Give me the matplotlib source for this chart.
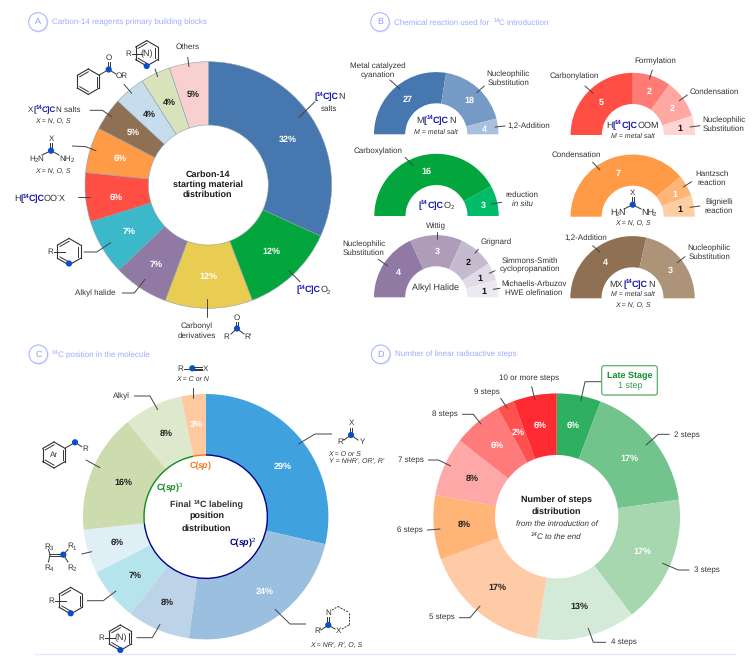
import numpy as np
import matplotlib
matplotlib.use("Agg")
import matplotlib.pyplot as plt
from matplotlib.font_manager import FontProperties
from matplotlib.patches import Circle, FancyBboxPatch
from matplotlib.textpath import TextPath

# ================= DATA =================
a_sizes = [31.8, 12.4, 11.5, 7.2, 7.3, 6.4, 6.0, 4.3, 4.1, 3.9, 5.1]
a_labels = ["32%", "12%", "12%", "7%", "7%", "6%", "6%", "5%", "4%", "4%", "5%"]
a_colors = ["#4677AE", "#03A63C", "#E9CD52", "#9079A2", "#3CB8CB", "#FF4E44",
            "#FF9B47", "#8F7052", "#C7DDEE", "#D8E3BB", "#F8D0D0"]
a_dark = [8, 9, 10]

b_cn = [27, 18, 4]
b_cn_colors = ["#4677AE", "#769AC6", "#A7C0DD"]
b_formate = [5, 2, 2, 1]
b_formate_colors = ["#FF4E44", "#FF7C76", "#FFA8A2", "#FFD4D2"]
b_co2 = [16, 3]
b_co2_colors = ["#03A63C", "#00BC68"]
b_urea = [7, 1, 1]
b_urea_colors = ["#FF9B47", "#FFB478", "#FFCDA4"]
b_alkyl = [4, 3, 2, 1, 1]
b_alkyl_colors = ["#9079A2", "#AE9CB8", "#C6BACF", "#E0DBE6", "#ECE9F0"]
b_mx = [4, 3]
b_mx_colors = ["#8F7052", "#AD9479"]

c_sizes = [28.6, 23.6, 8.3, 7.0, 5.8, 15.7, 7.8, 3.2]
c_labels = ["29%", "24%", "8%", "7%", "6%", "16%", "8%", "3%"]
c_colors = ["#3FA2DF", "#9ABFDF", "#BCD3E8", "#B6E4EC", "#DEF0F6", "#CCDCAE", "#DEE8CC", "#FFC9A0"]
c_dark = [2, 3, 4, 5, 6]
c_hybrid = [73.3, 23.5, 3.2]
c_hybrid_colors = ["#00008B", "#128A1E", "#F57A1F"]

d_sizes = [5.8, 17.0, 16.8, 13.0, 16.8, 8.4, 7.8, 6.5, 2.2, 5.7]
d_labels = ["6%", "17%", "17%", "13%", "17%", "8%", "8%", "6%", "2%", "6%"]
d_colors = ["#2FB060", "#72C38C", "#A6D7AF", "#D4EAD9", "#FFCBA6", "#FFB478",
            "#FFA8A8", "#FF7A7A", "#FF5050", "#FF2B33"]
d_dark = [3, 4, 5, 6]

# ================= SETUP =================
W, H = 756, 658
FONT = "Liberation Sans"
FS = 6.0
INK = "#333333"
BLUE = "#1A1AB0"
DOT = "#0A4FC9"
TITLE = "#9DAAFF"

plt.rcParams["font.family"] = FONT
plt.rcParams["text.hinting"] = "no_hinting"
plt.rcParams["text.hinting_factor"] = 1
fig = plt.figure(figsize=(W / 100, H / 100), dpi=100)
ax = fig.add_axes([0, 0, 1, 1])


def yy(y):
    return H - y


# ================= HELPERS =================
def donut(sizes, colors, cx, cy, r, ri, labels=None, dark=(), edge="none", size=6.6, nudge={}):
    wedges, _ = ax.pie(sizes, colors=colors, center=(cx, yy(cy)), radius=r, startangle=90,
                       counterclock=False, wedgeprops=dict(width=r - ri, edgecolor=edge, linewidth=0.4))
    if labels:
        for i, w in enumerate(wedges):
            th = np.deg2rad((w.theta1 + w.theta2) / 2)
            rm = (r + ri) / 2
            nx, ny = nudge.get(i, (0, 0))
            ax.text(cx + rm * np.cos(th) + nx, yy(cy) + rm * np.sin(th) - ny, labels[i], ha="center", va="center",
                    color="#222222" if i in dark else "white", fontsize=size, fontweight="bold", zorder=5)


def half(values, colors, cx, cy, dark=(), r=62.2, ri=31.0):
    frac = [v / (2 * sum(values)) for v in values]
    wedges, _ = ax.pie(frac, colors=colors, center=(cx, yy(cy)), radius=r, startangle=180, normalize=False,
                       counterclock=False, wedgeprops=dict(width=r - ri, linewidth=0))
    for i, w in enumerate(wedges):
        th = np.deg2rad((w.theta1 + w.theta2) / 2)
        rm = (r + ri) / 2
        ax.text(cx + rm * np.cos(th) + 1.5, yy(cy) + rm * np.sin(th) - 1, str(values[i]), ha="center", va="center",
                color="#111111" if i in dark else "white", fontsize=6.6, fontweight="bold", zorder=5)


def txt(x, y, s, size=FS, **kw):
    kw.setdefault("color", INK)
    kw.setdefault("ha", "center")
    ax.text(x, yy(y), s, fontsize=size, va="center", zorder=6, **kw)


def lead(*pts):
    xs = [p[0] for p in pts]
    ys = [yy(p[1]) for p in pts]
    ax.plot(xs, ys, color="#444444", lw=0.7, zorder=4, solid_capstyle="round")


def bond(x0, y0, x1, y1, lw=0.7, color=INK, **kw):
    ax.plot([x0, x1], [yy(y0), yy(y1)], color=color, lw=lw, zorder=4, **kw)


def multi(x0, y0, x1, y1, offs, lw=0.7):
    dx, dy = x1 - x0, y1 - y0
    n = np.hypot(dx, dy)
    px, py = -dy / n, dx / n
    for o in offs:
        bond(x0 + px * o, y0 + py * o, x1 + px * o, y1 + py * o, lw=lw)


def dot(x, y, r=3.1):
    ax.add_patch(Circle((x, yy(y)), r, fc=DOT, ec="none", zorder=7))


def ring(cx, cy, r=13.0):
    ang = np.deg2rad(np.arange(6) * 60 + 90)
    vx = cx + r * np.cos(ang)
    vy = cy + r * np.sin(ang)
    for i in range(6):
        j = (i + 1) % 6
        bond(vx[i], vy[i], vx[j], vy[j], lw=0.8)
        if i % 2 == 0:
            ix0, iy0 = cx + (vx[i] - cx) * 0.78, cy + (vy[i] - cy) * 0.78
            ix1, iy1 = cx + (vx[j] - cx) * 0.78, cy + (vy[j] - cy) * 0.78
            bond(ix0, iy0, ix1, iy1, lw=0.7)


def rich(x, y, segs, size=FS, ha="center"):
    def fp(kind):
        s = size * 0.68 if "^" in kind or "_" in kind else size
        return FontProperties(family=FONT, size=s, weight="bold" if "b" in kind else "normal",
                              style="italic" if "i" in kind else "normal")

    def width(s, kind):
        # measure through the glyph path, bracketed so that spaces count
        # -0.6 pulls the segments together, agg snaps each text to whole pixels
        p = fp(kind)
        sz = p.get_size_in_points() * 100 / 72
        w1 = TextPath((0, 0), "|" + s + "|", size=sz, prop=p).get_extents().width
        w0 = TextPath((0, 0), "||", size=sz, prop=p).get_extents().width
        return w1 - w0 - 0.6

    total = sum(width(s, k) for s, k in segs)
    px = x - total / 2 if ha == "center" else x
    base = yy(y) - size * 1.39 * 0.36
    for s, k in segs:
        up = 0.0
        if "^" in k:
            up = size * 1.39 * 0.38
        if "_" in k:
            up = -size * 1.39 * 0.18
        col = BLUE if "B" in k else INK
        if "g" in k:
            col = c_hybrid_colors[1]
        if "n" in k:
            col = c_hybrid_colors[0]
        if "o" in k:
            col = c_hybrid_colors[2]
        if "w" in k:
            col = TITLE
        ax.text(px, base + up, s, fontproperties=fp(k), color=col, ha="left", va="baseline", zorder=6)
        px += width(s, k)


def c14(prefix, suffix, after=""):
    segs = []
    if prefix:
        segs.append((prefix, ""))
    segs += [("[", "bB"), ("14", "bB^"), ("C]C", "bB"), (suffix, "")]
    if after:
        segs.append((after, ""))
    return segs


def badge(x, y, letter, title=None, segs=None, tx=52):
    ax.add_patch(Circle((x + 1, yy(y + 1)), 9.6, fc="#E6EAFF", ec="none", zorder=2))
    ax.add_patch(Circle((x, yy(y)), 9.3, fc="white", ec="#AAB6FF", lw=0.8, zorder=3))
    txt(x, y, letter, size=6.6, color="#8E9CF5")
    if title:
        txt(tx, y, title, size=5.9, color=TITLE, ha="left")
    if segs:
        rich(tx, y, segs, size=5.9, ha="left")


# ================= PANEL A =================
badge(38, 22, "A", "Carbon-14 reagents primary building blocks")
donut(a_sizes, a_colors, 208.3, 185, 123.3, 60, a_labels, a_dark, edge="#8C9FB0",
      nudge={0: (2.7, 4), 3: (-2, 3), 5: (-0.7, 3)})
for y, s in [(174.5, "Carbon-14"), (184.5, "starting material"), (194.5, "distribution")]:
    txt(207.7, y, s, size=6.6, fontweight="bold", color="#1A1A1A")

rich(329, 96, c14("", "N"), size=6.4)
txt(329, 109, "salts")
lead((315, 101.7), (299, 117.3))
rich(313, 289, [("[", "bB"), ("14", "bB^"), ("C]C", "bB"), ("O", ""), ("2", "_")], size=6.4)
lead((300, 281.7), (289, 270.7))
txt(197, 326, "Carbonyl")
txt(197, 336, "derivatives")
lead((207.3, 299.3), (207.3, 316.7))
txt(237, 318, "O")
multi(237, 322, 237, 328, [-1, 1])
bond(237, 328.5, 231, 334)
bond(237, 328.5, 244, 334)
dot(237, 328.5)
txt(226, 337, "R")
txt(248, 337, "R'")
txt(95, 293, "Alkyl halide")
lead((122.3, 293), (134.3, 293), (145, 279.3))
ring(69, 251.7, 13.3)
txt(50, 251.7, "R")
bond(54, 251.7, 65, 251.7)
dot(69, 263.5)
lead((84, 252), (96.7, 252), (110.7, 242.7))
rich(14.3, 197.7, [("H", ""), ("[", "bB"), ("14", "bB^"), ("C]C", "bB"), ("OO", ""), ("-", "^"), ("X", "")], size=6.4, ha="left")
lead((78.3, 197.3), (90, 197.3))
txt(51, 139, "X")
multi(51, 143, 51, 150, [-1, 1])
bond(51, 150.7, 42, 155)
bond(51, 150.7, 59, 155)
dot(51, 150.7)
rich(35.7, 157.7, [("H", ""), ("2", "_"), ("N", "")])
rich(66.7, 157.7, [("NH", ""), ("2", "_")])
txt(53, 171, "X = N, O, S", size=5.4, style="italic")
lead((72.3, 146), (85.7, 146.7), (96, 150.7))
rich(28.3, 109.3, [("X", ""), ("[", "bB"), ("14", "bB^"), ("C]C", "bB"), ("N salts", "")], size=6.1, ha="left")
txt(53, 121.7, "X = N, O, S", size=5.4, style="italic")
lead((90, 110.3), (102.3, 110.3), (111.7, 116.7))
ring(88.3, 81.7, 12.7)
bond(99.3, 75, 108.7, 69.5)
multi(108.7, 62, 108.7, 69, [-1, 1])
bond(108.7, 69.5, 116, 74)
dot(108.7, 69.5)
txt(108.7, 58, "O")
txt(122, 76.3, "OR")
lead((124, 84.3), (131.7, 93.3))
ring(146.7, 53.3, 12.7)
txt(146.7, 54, "(N)", size=6.4)
txt(128.3, 54.3, "R")
bond(132, 54, 141.5, 54)
dot(146.7, 66)
lead((155, 69), (157.7, 76.7))
txt(187.7, 47.3, "Others")
lead((187.7, 57.3), (189, 66.7))

# ================= PANEL B =================
badge(380, 22, "B", segs=[("Chemical reaction used for ", "w"), ("14", "w^"), ("C introduction", "w")], tx=394.3)

half(b_cn, b_cn_colors, 436.2, 134.3)
rich(435.7, 119.3, c14("M", "N"), size=6.8)
txt(436, 131.7, "M = metal salt", size=5.4, style="italic")
txt(377.7, 66.7, "Metal catalyzed", size=5.5)
txt(377.7, 75.7, "cyanation", size=5.5)
lead((390, 80), (400, 89))
txt(508.3, 74.3, "Nucleophilic", size=5.5)
txt(508.3, 83.3, "Substitution", size=5.5)
lead((484.3, 86), (476.7, 92.7))
txt(528.3, 126, "1,2-Addition", size=5.5)
lead((505, 126), (495, 127))

half(b_formate, b_formate_colors, 632.8, 135, dark=[3])
rich(632.7, 124.3, c14("H", "OOM"), size=6.8)
txt(632.7, 135.7, "M = metal salt", size=5.4, style="italic")
txt(655, 61.3, "Formylation", size=5.5)
lead((652.3, 70), (649.3, 79.3))
txt(574.3, 76.7, "Carbonylation", size=5.5)
lead((585, 86), (593.3, 93.3))
txt(714.3, 92, "Condensation", size=5.5)
lead((687.3, 95), (679.3, 100.7))
txt(724, 120, "Nucleophilic", size=5.5)
txt(724, 128.7, "Substitution", size=5.5)
lead((700, 125.7), (690, 127))

half(b_co2, b_co2_colors, 436.5, 216)
rich(436, 204.3, [("[", "bB"), ("14", "bB^"), ("C]C", "bB"), ("O", ""), ("2", "_")], size=6.8)
txt(377.7, 151.7, "Carboxylation", size=5.5)
lead((405, 157.3), (413.3, 165.7))
txt(522.3, 195.3, "reduction", size=5.5)
txt(522.3, 204.3, "in situ", size=5.5, style="italic")
lead((501.7, 202.3), (491.7, 204))

half(b_urea, b_urea_colors, 632.7, 216.7, dark=[2])
txt(632.7, 192.7, "X")
multi(632.7, 197, 632.7, 204, [-1, 1])
bond(632.7, 204.7, 624, 209)
bond(632.7, 204.7, 641, 209)
dot(632.7, 204.7)
rich(617.3, 211.7, [("H", ""), ("2", "_"), ("N", "")], size=6.2)
rich(648.3, 211.7, [("NH", ""), ("2", "_")], size=6.2)
txt(633.3, 223.7, "X = N, O, S", size=5.4, style="italic")
txt(576, 154.7, "Condensation", size=5.5)
lead((592.7, 162.3), (600, 170))
txt(712, 173.7, "Hantzsch", size=5.5)
txt(712, 182.7, "reaction", size=5.5)
lead((691.7, 181.7), (683.3, 187))
txt(718.7, 202.3, "Bignielli", size=5.5)
txt(718.7, 210.7, "reaction", size=5.5)
lead((700, 206), (690, 207.3))

half(b_alkyl, b_alkyl_colors, 436.2, 297.3, dark=[2, 3, 4])
txt(435.7, 288, "Alkyl Halide", size=6.8)
txt(436.3, 226.7, "Wittig", size=5.5)
lead((436.7, 232.3), (436.7, 239))
txt(364, 244.3, "Nucleophilic", size=5.5)
txt(364, 253, "Substitution", size=5.5)
lead((378.3, 259.3), (387.7, 266))
txt(496.3, 242.3, "Grignard", size=5.5)
lead((478.3, 249.3), (475, 253.3))
txt(530.3, 260.7, "Simmons-Smith", size=5.5)
txt(530.3, 269.7, "cyclopropanation", size=5.5)
lead((495, 270.7), (489.3, 273.3))
txt(534.3, 284, "Michaelis-Arbuzov", size=5.5)
txt(533.3, 292.7, "HWE olefination", size=5.5)
lead((500, 288.3), (493.3, 289.3))

half(b_mx, b_mx_colors, 632.5, 298.3)
rich(632, 283.3, c14("MX", "N"), size=6.8)
txt(633, 294.3, "M = metal salt", size=5.4, style="italic")
txt(633, 305, "X = N, O, S", size=5.4, style="italic")
txt(585.7, 238, "1,2-Addition", size=5.5)
lead((592.7, 245.7), (600, 252.3))
txt(709.3, 248.7, "Nucleophilic", size=5.5)
txt(709.3, 257.3, "Substitution", size=5.5)
lead((685, 256.7), (677.3, 262.7))

# ================= PANEL C =================
badge(38.3, 354.3, "C", segs=[("14", "w^"), ("C position in the molecule", "w")])
donut(c_sizes, c_colors, 205.7, 516.7, 122.7, 61.7, c_labels, c_dark,
      nudge={0: (4.7, 7), 1: (7, -1), 5: (2.7, 1), 2: (-2.3, 1)})
donut(c_hybrid, c_hybrid_colors, 205.7, 516.7, 62.4, 61.0)
rich(206.7, 504, [("Final ", "b"), ("14", "b^"), ("C labeling", "b")], size=6.6)
txt(206.7, 516, "position", size=6.6, fontweight="bold", color="#1A1A1A")
txt(206.7, 528.3, "distribution", size=6.6, fontweight="bold", color="#1A1A1A")
rich(200, 464.7, [("C(", "bo"), ("sp", "bio"), (")", "bo")], size=6.6)
rich(169.3, 486.7, [("C(", "bg"), ("sp", "big"), (")", "bg"), ("3", "g^")], size=6.6)
rich(242.3, 542.3, [("C(", "bn"), ("sp", "bin"), (")", "bn"), ("2", "n^")], size=6.6)

txt(180.7, 369, "R")
bond(184, 368.5, 192, 368.5)
multi(192, 368.5, 201.5, 368.5, [-1.3, 0, 1.3])
dot(192.3, 368.3)
txt(205, 369, "X")
txt(192.7, 378.7, "X = C or N", size=5.4, style="italic")
lead((193.3, 388.3), (193.3, 397.7))
txt(121.7, 396, "Alkyl")
lead((134.3, 396), (150, 396), (157.7, 409.7))
ring(54, 455, 13)
txt(54, 455, "Ar", size=6.0)
bond(65, 448.3, 75, 442.3)
bond(75, 442.3, 81.7, 446.7)
dot(75, 442.3)
txt(85.3, 449, "R")
lead((86, 460), (100, 467.7))
rich(48.3, 545.7, [("R", ""), ("3", "_")])
rich(71, 545, [("R", ""), ("1", "_")])
rich(48.3, 566.7, [("R", ""), ("4", "_")])
rich(71, 566.7, [("R", ""), ("2", "_")])
multi(50, 554.7, 63.3, 554.7, [-1, 1])
bond(50, 554.7, 48.5, 549.5)
bond(50, 554.7, 48.5, 562)
bond(63.3, 554.7, 68, 549.5)
bond(63.3, 554.7, 68, 562)
dot(63.3, 554.7)
lead((81.7, 554), (91.7, 551.7))
ring(70.7, 600.7, 13.3)
txt(51.7, 601, "R")
bond(55, 601, 66, 601)
dot(70.7, 613.3)
lead((87.3, 600.7), (103.3, 600.7), (116, 591))
ring(120.3, 637.7, 12.7)
txt(120.3, 638, "(N)", size=6.4)
txt(101.7, 637.7, "R")
bond(105, 637.7, 115, 637.7)
dot(120.3, 650)
lead((136.7, 637.7), (152.3, 637.7), (160, 624.3))
lead((298.3, 444), (315, 434), (331.7, 434))
txt(351, 423.3, "X")
multi(351, 427.5, 351, 434.5, [-1, 1])
bond(351, 435, 344, 440)
bond(351, 435, 358, 440)
dot(351, 435)
txt(340.7, 442.3, "R'")
txt(362.3, 441.7, "Y")
txt(345, 454, "X = O or S", size=5.4, style="italic")
txt(329, 461.7, "Y = NHR', OR', R'", size=5.4, style="italic", ha="left")
lead((275, 609.3), (290, 624), (305.7, 624))
txt(328.3, 612.7, "N")
multi(328.3, 617, 328.3, 624, [-1, 1])
bond(328.3, 625, 321, 630)
bond(328.3, 625, 335, 629)
dot(328.3, 625)
txt(317.7, 631, "R'")
txt(338.3, 631, "X")
for x0, y0, x1, y1 in [(332, 610, 338, 606.5), (338, 606.5, 349, 612.5), (349, 612.5, 349, 625), (349, 625, 342, 629)]:
    bond(x0, y0, x1, y1, ls=(0, (2, 1.2)))
txt(336, 645, "X = NR', R', O, S", size=5.4, style="italic")

# ================= PANEL D =================
badge(380.7, 354.3, "D", "Number of linear radioactive steps", tx=395)
donut(d_sizes, d_colors, 556.7, 516.7, 123.3, 61.7, d_labels, d_dark)
txt(556.7, 499.7, "Number of steps", size=6.6, fontweight="bold", color="#1A1A1A")
txt(556.7, 511.7, "distribution", size=6.6, fontweight="bold", color="#1A1A1A")
txt(556.7, 523.7, "from the introduction of", size=6.1, style="italic")
rich(556.7, 536, [("14", "i^"), ("C to the end", "i")], size=6.1)

ax.add_patch(FancyBboxPatch((603, yy(396)), 55, 29, boxstyle="round,pad=0,rounding_size=2.5",
                            fc="#DDE8DD", ec="none", zorder=2))
ax.add_patch(FancyBboxPatch((601.7, yy(395)), 55.6, 29.3, boxstyle="round,pad=0,rounding_size=2.5",
                            fc="white", ec="#5BB36A", lw=0.9, zorder=3))
txt(629.3, 375.7, "Late Stage", size=6.4, fontweight="bold", color="#0C8C2C")
txt(630, 386, "1 step", size=6.4, color="#2E9E44")
lead((601, 381.7), (585, 381.7), (580.7, 401))

for x, y, s in [(529.3, 378, "10 or more steps"), (486.7, 392.7, "9 steps"), (445, 414.3, "8 steps"),
                (410.7, 460, "7 steps"), (410, 530, "6 steps"), (441.7, 617, "5 steps"),
                (624.3, 642, "4 steps"), (707.3, 570, "3 steps"), (687.3, 435, "2 steps")]:
    txt(x, y, s, size=6.0)
lead((531.7, 386.7), (535, 400))
lead((500.7, 398.3), (507.3, 408.3))
lead((462.3, 414.3), (473.3, 414.3), (481, 424))
lead((428.3, 460), (438.3, 460), (450.7, 466))
lead((427.3, 530), (440, 529))
lead((459.3, 617.7), (470, 617.7), (480, 606))
lead((588.3, 628.3), (593.3, 642.3), (605.7, 642.3))
lead((662.7, 563.3), (678.3, 570), (689, 570))
lead((646, 445), (658.3, 434.3), (669.3, 434.3))

# bottom rule
ax.plot([35, 735], [yy(654), yy(654)], color="#E4E8FF", lw=1.0, zorder=1)

ax.set_xlim(0, W)
ax.set_ylim(0, H)
ax.set_aspect("equal")
ax.axis("off")
fig.savefig("out.png", dpi=100, facecolor="white")
